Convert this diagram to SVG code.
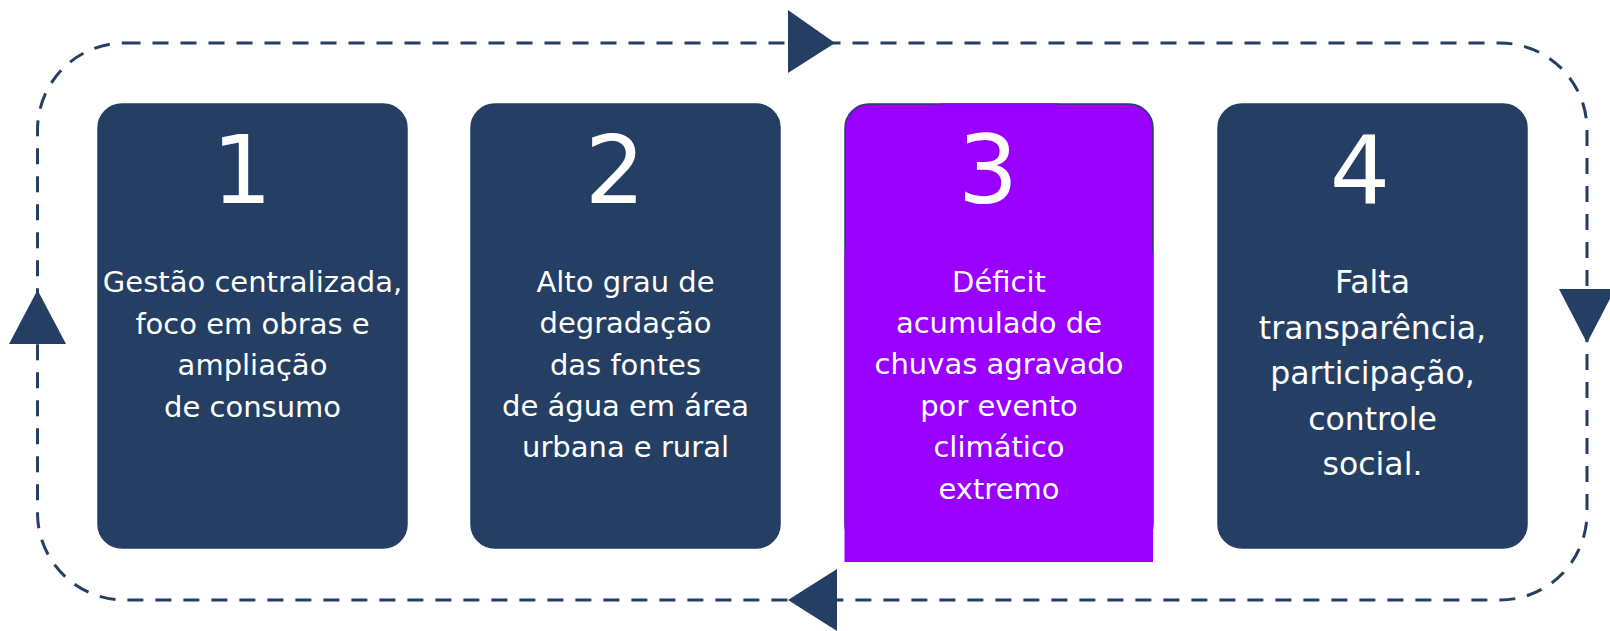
<svg xmlns="http://www.w3.org/2000/svg" width="1610" height="631" viewBox="0 0 1610 631">
<style>
.box{fill:#243f63;stroke:#243f63;stroke-width:1.5}
.num{font-family:"DejaVu Sans",Verdana,sans-serif;font-size:95px;fill:#ffffff;text-anchor:middle}
.txt{font-family:"DejaVu Sans",Verdana,sans-serif;font-size:29px;fill:#ffffff;text-anchor:middle}
.txt4{font-family:"DejaVu Sans",Verdana,sans-serif;font-size:31.5px;fill:#ffffff;text-anchor:middle}
.loop{fill:none;stroke:#243f63;stroke-width:3;stroke-dasharray:16 12}
.arr{fill:#243f63}
</style>
<rect width="1610" height="631" fill="#ffffff"/>
<g id="connectors">
<rect class="loop" x="37.5" y="43" width="1549.5" height="557" rx="87" ry="87"/>
<polygon class="arr" points="788,10 788,73 835,43"/>
<polygon class="arr" points="1559,289 1615,289 1587,343"/>
<polygon class="arr" points="837,569 837,631 788,600"/>
<polygon class="arr" points="9,344 66,344 37.5,290"/>
</g>
<g id="node1">
<rect class="box" x="98" y="104" width="309" height="444" rx="24"/>
<text class="num" x="242" y="203">1</text>
<text class="txt" x="252.5" y="292">Gestão centralizada,</text>
<text class="txt" x="252.5" y="333.5">foco em obras e</text>
<text class="txt" x="252.5" y="375">ampliação</text>
<text class="txt" x="252.5" y="416.5">de consumo</text>
</g>
<g id="node2">
<rect class="box" x="471" y="104" width="309" height="444" rx="24"/>
<text class="num" x="615" y="203">2</text>
<text class="txt" x="625.5" y="292">Alto grau de</text>
<text class="txt" x="625.5" y="333">degradação</text>
<text class="txt" x="625.5" y="374.5">das fontes</text>
<text class="txt" x="625.5" y="416">de água em área</text>
<text class="txt" x="625.5" y="457">urbana e rural</text>
</g>
<g id="node3">
<rect x="845" y="104" width="308" height="444" rx="24" fill="#9900ff" stroke="#243f63" stroke-width="1.5"/>
<rect x="844.5" y="253" width="308.5" height="309" fill="#9900ff"/>
<rect x="940" y="103.3" width="118" height="1.4" fill="#9900ff"/>
<text class="num" x="988" y="203">3</text>
<text class="txt" x="999" y="292">Déficit</text>
<text class="txt" x="999" y="333">acumulado de</text>
<text class="txt" x="999" y="374">chuvas agravado</text>
<text class="txt" x="999" y="415.5">por evento</text>
<text class="txt" x="999" y="457">climático</text>
<text class="txt" x="999" y="498.5">extremo</text>
</g>
<g id="node4">
<rect class="box" x="1218" y="104" width="309" height="444" rx="24"/>
<text class="num" x="1360" y="203">4</text>
<text class="txt4" x="1372.5" y="293">Falta</text>
<text class="txt4" x="1372.5" y="338.5">transparência,</text>
<text class="txt4" x="1372.5" y="384">participação,</text>
<text class="txt4" x="1372.5" y="429.5">controle</text>
<text class="txt4" x="1372.5" y="475">social.</text>
</g>
</svg>
